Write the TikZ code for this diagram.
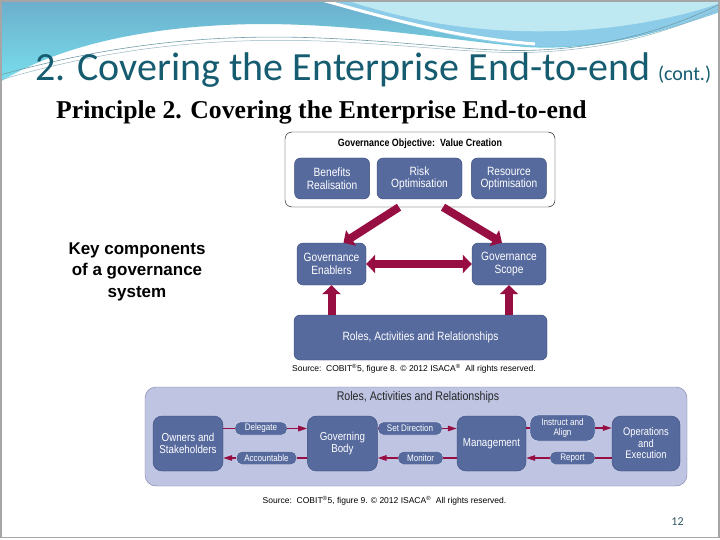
\documentclass[tikz,border=0pt]{standalone}
\usepackage{fontspec}
\setmainfont{Liberation Serif}
\setsansfont{Liberation Sans}
\newfontfamily\slidefont{Carlito}
\newfontfamily\narrowfont[FakeStretch=0.85]{Liberation Sans}
\usetikzlibrary{positioning,arrows.meta}
\definecolor{slideteal}{RGB}{22,92,112}
\definecolor{pagegray}{RGB}{50,88,100}
\definecolor{cobitblue}{RGB}{86,106,158}
\definecolor{cobitedge}{RGB}{58,74,120}
\definecolor{cobitwine}{RGB}{150,14,66}
\definecolor{cobitlilac}{RGB}{190,196,226}
\definecolor{lilacedge}{RGB}{120,126,165}
\definecolor{headblue}{RGB}{108,174,204}
\definecolor{headcyan}{RGB}{120,222,236}
\definecolor{headlight}{RGB}{140,204,232}
\definecolor{headpale}{RGB}{190,232,242}
\tikzset{
  bluebox/.style={rectangle, rounded corners=6pt, draw=cobitedge, fill=cobitblue,
    text=white, align=center, inner sep=1pt, font=\narrowfont\fontsize{12}{12.5}\selectfont},
  pillbox/.style={rectangle, rounded corners=5pt, draw=white!70!cobitlilac, fill=cobitblue,
    text=white, align=center, inner sep=0.5pt, minimum height=13pt,
    font=\narrowfont\fontsize{9.5}{10}\selectfont},
  wideshaft/.style={line width=8pt, cobitwine, -{Triangle[length=9pt,width=18pt]}},
  thinlink/.style={line width=1.5pt, cobitwine},
  thinarrow/.style={thinlink, -{Triangle[length=9pt,width=5.5pt]}},
  sourcetext/.style={font=\sffamily\fontsize{8.5}{9}\selectfont}
}

\begin{document}
\begin{tikzpicture}[x=1pt,y=-1pt]
  \useasboundingbox (0,0) rectangle (720,540);
  \fill[white] (0,0) rectangle (720,540);
  % header waves
  \shade[top color=headblue, bottom color=headcyan]
    (0,0) -- (0,82) .. controls (60,45) and (150,25) .. (260,24)
    .. controls (360,24) and (450,40) .. (525,47)
    .. controls (610,52) and (680,25) .. (720,12) -- (720,0) -- cycle;
  \fill[headlight] (330,0) .. controls (400,25) and (460,40) .. (525,46)
    .. controls (610,51) and (680,24) .. (720,12) -- (720,0) -- cycle;
  \fill[headpale] (345,0) .. controls (420,24) and (480,33) .. (560,31)
    .. controls (630,29) and (690,14) .. (720,3) -- (720,0) -- cycle;
  \draw[white, line width=3pt] (322,0) .. controls (400,22) and (460,38) .. (535,44);
  \draw[slideteal!60, line width=0.6pt] (0,75) .. controls (120,42) and (220,34) .. (320,38)
    .. controls (420,42) and (480,53) .. (540,50) .. controls (620,46) and (680,24) .. (720,4);
  \draw[slideteal!45, line width=0.5pt] (0,80) .. controls (120,45) and (220,38) .. (320,41)
    .. controls (420,45) and (480,55) .. (540,52) .. controls (620,48) and (680,28) .. (720,8);
  \draw[gray!70, line width=1.2pt] (1,1) rectangle (719,537.5);

  % titles
  \node[anchor=base west, inner sep=0pt, text=slideteal,
    font=\slidefont\fontsize{40}{40}\selectfont] (slidetitle) at (35,81)
    {2. Covering the Enterprise End-to-end};
  \node[anchor=base west, inner sep=0pt, text=slideteal,
    font=\slidefont\fontsize{20}{20}\selectfont] (conttag) at ([xshift=7pt]slidetitle.base east)
    {(cont.)};
  \node[anchor=base west, inner sep=0pt,
    font=\rmfamily\bfseries\fontsize{25.7}{26}\selectfont] (principle) at (56,119)
    {Principle 2. Covering the Enterprise End-to-end};
  \node[align=center, font=\sffamily\bfseries\fontsize{17}{21.5}\selectfont] (keytext) at (137,271.5)
    {Key components\\of a governance\\system};

  % figure 8
  \node[rectangle, rounded corners=7pt, draw=black, thin, fill=white,
    minimum width=270pt, minimum height=75pt] (objframe) at (420,169.5) {};
  \node[font=\narrowfont\bfseries\fontsize{10.5}{11}\selectfont] (objtitle) at (420,144)
    {Governance Objective:\ \ Value Creation};
  \node[bluebox, minimum width=85pt, minimum height=41pt] (risk) at (419.5,178.5) {Risk\\Optimisation};
  \node[bluebox, minimum width=75pt, minimum height=41pt, left=7pt of risk] (benefits) {Benefits\\Realisation};
  \node[bluebox, minimum width=75pt, minimum height=41pt, right=9pt of risk] (resource) {Resource\\Optimisation};
  \node[bluebox, minimum width=69pt, minimum height=42pt] (enablers) at (331.5,264) {Governance\\Enablers};
  \node[bluebox, minimum width=74pt, minimum height=42pt] (scope) at (509,264) {Governance\\Scope};
  \node[bluebox, minimum width=253pt, minimum height=45pt] (rolesbar) at (420.5,337.5)
    {Roles, Activities and Relationships};
  \draw[wideshaft] ([xshift=-21pt]objframe.south) -- ([xshift=12pt]enablers.north);
  \draw[wideshaft] ([xshift=23pt]objframe.south) -- ([xshift=-7pt]scope.north);
  \draw[wideshaft, {Triangle[length=9pt,width=18pt]}-{Triangle[length=9pt,width=18pt]}] (enablers) -- (scope);
  \draw[wideshaft] (enablers |- rolesbar.north) -- (enablers.south);
  \draw[wideshaft] (scope |- rolesbar.north) -- (scope.south);
  \node[sourcetext] (srcupper) at (414,369)
    {Source:\ \ COBIT\textsuperscript{®}5, figure 8. © 2012 ISACA\textsuperscript{®}\ \ All rights reserved.};

  % figure 9
  \node[rectangle, rounded corners=11pt, draw=lilacedge, fill=cobitlilac,
    minimum width=542pt, minimum height=99pt] (rolesframe) at (416,436.5) {};
  \node[font=\narrowfont\fontsize{12.5}{13}\selectfont, text=black!85] (rolestitle) at (418,397)
    {Roles, Activities and Relationships};
  \node[bluebox, minimum width=70pt, minimum height=55pt, rounded corners=9pt,
    font=\narrowfont\fontsize{11.5}{12}\selectfont] (owners) at (188,443.5)
    {Owners and\\Stakeholders};
  \node[bluebox, minimum width=70pt, minimum height=55pt, rounded corners=9pt,
    font=\narrowfont\fontsize{11.5}{12}\selectfont, right=84pt of owners] (govbody)
    {Governing\\Body};
  \node[bluebox, minimum width=69pt, minimum height=55pt, rounded corners=9pt,
    font=\narrowfont\fontsize{11.5}{12}\selectfont] (mgmt) at (491.5,443.5)
    {Management};
  \node[bluebox, minimum width=68pt, minimum height=55pt, rounded corners=9pt,
    font=\narrowfont\fontsize{11}{11.5}\selectfont] (ops) at (646,443.5)
    {Operations\\and\\Execution};
  \node[pillbox, minimum width=52pt] (delegate) at (261,428.5) {Delegate};
  \node[pillbox, minimum width=60pt] (accountable) at (266.5,458) {Accountable};
  \node[pillbox, minimum width=64pt] (setdir) at (410,428.5) {Set Direction};
  \node[pillbox, minimum width=45pt] (monitor) at (420.5,458) {Monitor};
  \node[pillbox, minimum width=65pt, minimum height=26pt, rounded corners=8pt] (instruct) at (562.5,428)
    {Instruct and\\Align};
  \node[pillbox, minimum width=45pt] (report) at (572.5,458) {Report};
  \draw[thinlink] (owners.east |- delegate) -- (delegate);
  \draw[thinarrow] (delegate) -- (govbody.west |- delegate);
  \draw[thinlink] (govbody.west |- accountable) -- (accountable);
  \draw[thinarrow] (accountable) -- (owners.east |- accountable);
  \draw[thinlink] (govbody.east |- setdir) -- (setdir);
  \draw[thinarrow] (setdir) -- (mgmt.west |- setdir);
  \draw[thinlink] (mgmt.west |- monitor) -- (monitor);
  \draw[thinarrow] (monitor) -- (govbody.east |- monitor);
  \draw[thinlink] (mgmt.east |- instruct) -- (instruct);
  \draw[thinarrow] (instruct) -- (ops.west |- instruct);
  \draw[thinlink] (ops.west |- report) -- (report);
  \draw[thinarrow] (report) -- (mgmt.east |- report);
  \node[sourcetext] (srclower) at (384.5,501)
    {Source:\ \ COBIT\textsuperscript{®}5, figure 9. © 2012 ISACA\textsuperscript{®}\ \ All rights reserved.};

  \node[font=\slidefont\fontsize{12}{12}\selectfont, text=pagegray] (pagenum) at (677.5,522) {12};
\end{tikzpicture}
\end{document}
